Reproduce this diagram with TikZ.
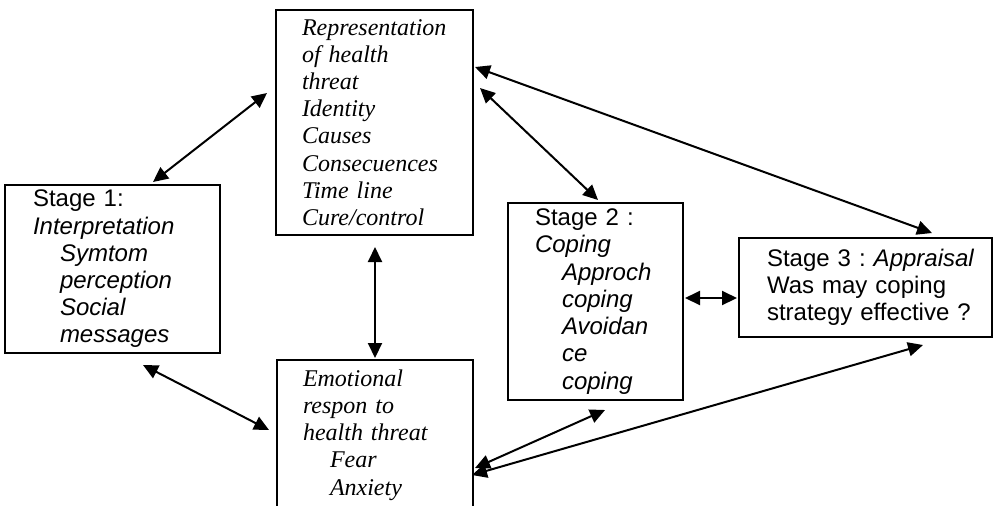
\documentclass[tikz,border=0pt]{standalone}
\usepackage{fontspec}
\usetikzlibrary{arrows.meta, calc}
\newfontfamily\arialfont{Liberation Sans}
\newfontfamily\timesfont{Liberation Serif}
\newcommand{\ind}{\hspace*{13.5pt}}
\frenchspacing
\tikzset{
  % one unit is one pixel of the sketch, y runs downwards
  every picture/.append style = {line width=1pt, >={Triangle[length=7.5pt, width=7pt]}},
  stagebox/.style = {draw, line width=1pt, align=left, inner ysep=2pt,
                     font=\arialfont\fontsize{12}{13.6}\selectfont},
  notebox/.style  = {draw, line width=1pt, align=left, inner ysep=2pt,
                     font=\timesfont\itshape\fontsize{12}{13.6}\selectfont},
  link/.style     = {<->, line width=1pt},
}

\begin{document}
\begin{tikzpicture}[x=0.5pt, y=-0.5pt]
  \useasboundingbox (0,0) rectangle (999,505);
  % --- representation and emotion -------------------------------------------
  \node[notebox, text width=72.5pt, inner xsep=13pt, minimum height=112.5pt] (repr) at (374.5,122.5)
    {Representation\\ of health\\ threat\\ Identity\\ Causes\\ Consecuences\\ Time line\\ Cure/control};
  \node[notebox, text width=72pt, inner xsep=13pt, minimum height=75pt] (emot) at (375,435)
    {Emotional\\ respon to\\ health threat\\ \ind Fear\\ \ind Anxiety};
  % --- the three stages -----------------------------------------------------
  \node[stagebox, text width=79.5pt, inner xsep=14pt, minimum height=84pt] (stageone) at (112.5,269)
    {Stage 1:\\ \textit{Interpretation}\\ \ind\textit{Symtom}\\ \ind\textit{perception}\\
     \ind\textit{Social}\\ \ind\textit{messages}};
  \node[stagebox, text width=60.5pt, inner xsep=13.5pt, minimum height=98.5pt] (stagetwo) at (595.5,301.5)
    {Stage 2 :\\ \textit{Coping}\\ \ind\textit{Approch}\\ \ind\textit{coping}\\ \ind\textit{Avoidan}\\
     \ind\textit{ce}\\ \ind\textit{coping}};
  \node[stagebox, text width=98.5pt, inner xsep=14pt, minimum height=49.5pt] (stagethree) at (865.5,287.5)
    {\mbox{Stage 3 : \textit{Appraisal}}\\ \mbox{Was may coping}\\ \mbox{strategy effective ?}};
  % --- two-way links ----------------------------------------------------------
  \draw[link] ($(stageone.north)+(40.5,-2)$) -- ($(repr.west)+(-8,-29.5)$);
  \draw[link] ($(stageone.south)+(30.5,11)$) -- ($(emot.west)+(-7,-5)$);
  \draw[link] ($(repr.south)+(0.5,11)$) -- ($(emot.north)+(0,-1)$);
  \draw[link] ($(repr.east)+(6,-34.5)$) -- ($(stagetwo.north)+(2.5,-2)$);
  \draw[link] ($(repr.east)+(1,-55.5)$) -- ($(stagethree.north)+(66.5,-4)$);
  \draw[link] ($(stagetwo.east)+(1,-3.5)$) -- ($(stagethree.west)+(-1,10.5)$);
  \draw[link] ($(stagetwo.south)+(9.5,9)$) -- ($(emot.east)+(1,33)$);
  \draw[link] ($(stagethree.south)+(57.5,7)$) -- ($(emot.east)+(-2,40)$);
\end{tikzpicture}
\end{document}
